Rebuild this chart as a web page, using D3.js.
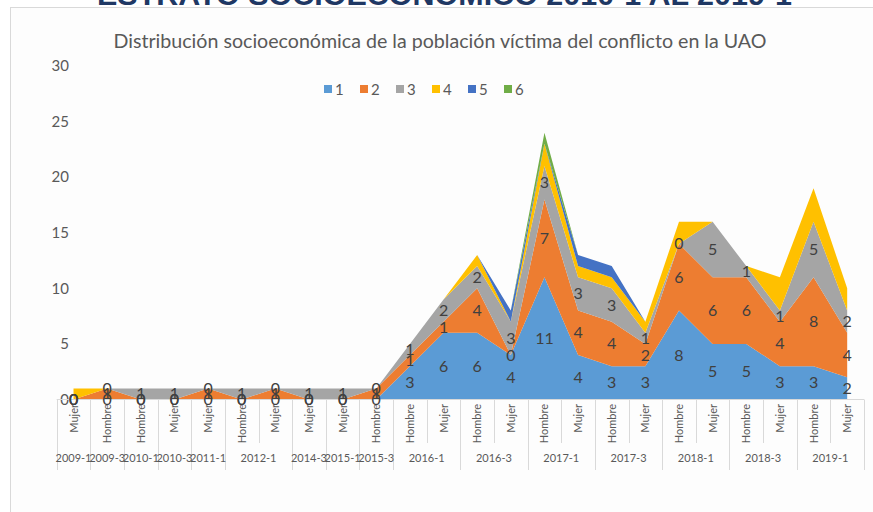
<!DOCTYPE html>
<html>
<head>
<meta charset="utf-8">
<script src="https://cdn.jsdelivr.net/npm/d3@7"></script>
<style>
  body { margin: 0; background: #ffffff; }
  svg { display: block; }
  text { font-family: Lato, "Open Sans", sans-serif; }
</style>
</head>
<body>
<svg id="chart" width="873" height="512"></svg>
<script>
// categories: semester and gender for each point
var periods = ["2009-1", "2009-3", "2010-1", "2010-3", "2011-1", "2012-1", "2012-1",
    "2014-3", "2015-1", "2015-3", "2016-1", "2016-1", "2016-3", "2016-3",
    "2017-1", "2017-1", "2017-3", "2017-3", "2018-1", "2018-1", "2018-3", "2018-3",
    "2019-1", "2019-1"];
var genders = ["Mujer", "Hombre", "Hombre", "Mujer", "Mujer", "Hombre", "Mujer",
    "Mujer", "Mujer", "Hombre", "Hombre", "Mujer", "Hombre", "Mujer",
    "Hombre", "Mujer", "Hombre", "Mujer", "Hombre", "Mujer", "Hombre", "Mujer",
    "Hombre", "Mujer"];

// series values (estrato 1..6)
var estrato1 = [0, 0, 0, 0, 0, 0, 0, 0, 0, 0, 3, 6, 6, 4, 11, 4, 3, 3, 8, 5, 5, 3, 3, 2];
var estrato2 = [0, 1, 0, 0, 1, 0, 1, 0, 0, 1, 1, 1, 4, 0, 7, 4, 4, 2, 6, 6, 6, 4, 8, 4];
var estrato3 = [0, 0, 1, 1, 0, 1, 0, 1, 1, 0, 1, 2, 2, 3, 3, 3, 3, 1, 0, 5, 1, 1, 5, 2];
var estrato4 = [1, 0, 0, 0, 0, 0, 0, 0, 0, 0, 0, 0, 1, 0, 2, 1, 1, 1, 2, 0, 0, 3, 3, 2];
var estrato5 = [0, 0, 0, 0, 0, 0, 0, 0, 0, 0, 0, 0, 0, 1, 0, 1, 1, 0, 0, 0, 0, 0, 0, 0];
var estrato6 = [0, 0, 0, 0, 0, 0, 0, 0, 0, 0, 0, 0, 0, 0, 1, 0, 0, 0, 0, 0, 0, 0, 0, 0];

var seriesNames = ["1", "2", "3", "4", "5", "6"];
var yTicks = [0, 5, 10, 15, 20, 25, 30];

var colors = ["#5B9BD5", "#ED7D31", "#A5A5A5", "#FFC000", "#4472C4", "#70AD47"];
var allSeries = [estrato1, estrato2, estrato3, estrato4, estrato5, estrato6];

var rows = periods.map(function(p, i) {
    var row = {idx: i, period: p, gender: genders[i]};
    seriesNames.forEach(function(k, j) { row[k] = allSeries[j][i]; });
    return row;
});

var svg = d3.select("#chart");

// page title, mostly cut off at the top
svg.append("text")
    .attr("x", 97)
    .attr("y", 5)
    .attr("textLength", 695)
    .attr("lengthAdjust", "spacingAndGlyphs")
    .style("font-family", "'Liberation Sans', Arial, sans-serif")
    .style("font-weight", "bold")
    .style("font-size", "30px")
    .style("fill", "#1F3864")
    .text("ESTRATO SOCIOECONÓMICO 2010-1 AL 2019-1");

// chart area box
svg.append("rect")
    .attr("x", 10.5)
    .attr("y", 7.5)
    .attr("width", 880)
    .attr("height", 520)
    .attr("fill", "#fdfdfd")
    .attr("stroke", "#d9d9d9");

svg.append("text")
    .attr("x", 440)
    .attr("y", 48)
    .attr("text-anchor", "middle")
    .attr("textLength", 653)
    .attr("lengthAdjust", "spacingAndGlyphs")
    .style("font-size", "18.5px")
    .style("fill", "#595959")
    .text("Distribución socioeconómica de la población víctima del conflicto en la UAO");

var x = d3.scaleBand()
    .domain(d3.range(rows.length))
    .range([56.7, 864]);

var y = d3.scaleLinear()
    .domain([0, 30])
    .range([399.5, 66]);

function cx(i) {
    return x(i) + x.bandwidth() / 2;
}

var stacked = d3.stack().keys(seriesNames)(rows);

var area = d3.area()
    .x(function(d) { return cx(d.data.idx); })
    .y0(function(d) { return y(d[0]); })
    .y1(function(d) { return y(d[1]); });

svg.append("g")
    .selectAll("path")
    .data(stacked)
    .enter()
    .append("path")
    .attr("d", area)
    .attr("fill", function(d, i) { return colors[i]; });

// y axis labels only
var yAxis = d3.axisLeft(y).tickValues(yTicks).tickSize(0).tickPadding(0);
var yg = svg.append("g")
    .attr("transform", "translate(69,0)")
    .call(yAxis);
yg.select(".domain").remove();
yg.selectAll("text")
    .style("font-family", "Lato, sans-serif")
    .style("font-size", "15px")
    .style("fill", "#595959");

// category axis: baseline, inner ticks and group separators
var axisG = svg.append("g");
axisG.append("line")
    .attr("x1", 56.7).attr("x2", 864)
    .attr("y1", 399.5).attr("y2", 399.5)
    .attr("stroke", "#d9d9d9");

rows.forEach(function(r, i) {
    var isGroupStart = i === 0 || periods[i - 1] !== r.period;
    axisG.append("line")
        .attr("x1", Math.round(x(i)) + 0.5).attr("x2", Math.round(x(i)) + 0.5)
        .attr("y1", 399.5)
        .attr("y2", isGroupStart ? 470 : 443)
        .attr("stroke", "#d9d9d9");
});
axisG.append("line")
    .attr("x1", 864.5).attr("x2", 864.5)
    .attr("y1", 399.5).attr("y2", 470)
    .attr("stroke", "#d9d9d9");

axisG.selectAll("text.gender")
    .data(rows)
    .enter()
    .append("text")
    .attr("class", "gender")
    .attr("transform", function(d) {
        return "translate(" + (cx(d.idx) + 4) + ",404) rotate(-90)";
    })
    .attr("text-anchor", "end")
    .style("font-size", "11px")
    .style("fill", "#595959")
    .text(function(d) { return d.gender; });

var groups = [];
rows.forEach(function(r, i) {
    var last = groups[groups.length - 1];
    if (last && last.period === r.period) {
        last.end = i;
    } else {
        groups.push({period: r.period, start: i, end: i});
    }
});

axisG.selectAll("text.period")
    .data(groups)
    .enter()
    .append("text")
    .attr("class", "period")
    .attr("x", function(d) { return (x(d.start) + x(d.end) + x.bandwidth()) / 2; })
    .attr("y", 462)
    .attr("text-anchor", "middle")
    .style("font-size", "11px")
    .style("fill", "#595959")
    .text(function(d) { return d.period; });

// data labels for estratos 1-3, centred in each band
var labelG = svg.append("g");
stacked.slice(0, 3).forEach(function(s) {
    labelG.selectAll(null)
        .data(s)
        .enter()
        .append("text")
        .attr("x", function(d) { return cx(d.data.idx); })
        .attr("y", function(d) { return y((d[0] + d[1]) / 2) + 5.5; })
        .attr("text-anchor", "middle")
        .style("font-size", "16px")
        .style("fill", "#404040")
        .text(function(d) { return d.data[s.key]; });
});

// legend
var legend = svg.append("g")
    .selectAll("g")
    .data(seriesNames)
    .enter()
    .append("g")
    .attr("transform", function(d, i) { return "translate(" + (324 + i * 36) + ",89)"; });

legend.append("rect")
    .attr("x", 0).attr("y", -4)
    .attr("width", 8).attr("height", 8)
    .attr("fill", function(d, i) { return colors[i]; });

legend.append("text")
    .attr("x", 11)
    .attr("y", 5.5)
    .style("font-size", "15px")
    .style("fill", "#595959")
    .text(function(d) { return d; });
</script>
</body>
</html>
